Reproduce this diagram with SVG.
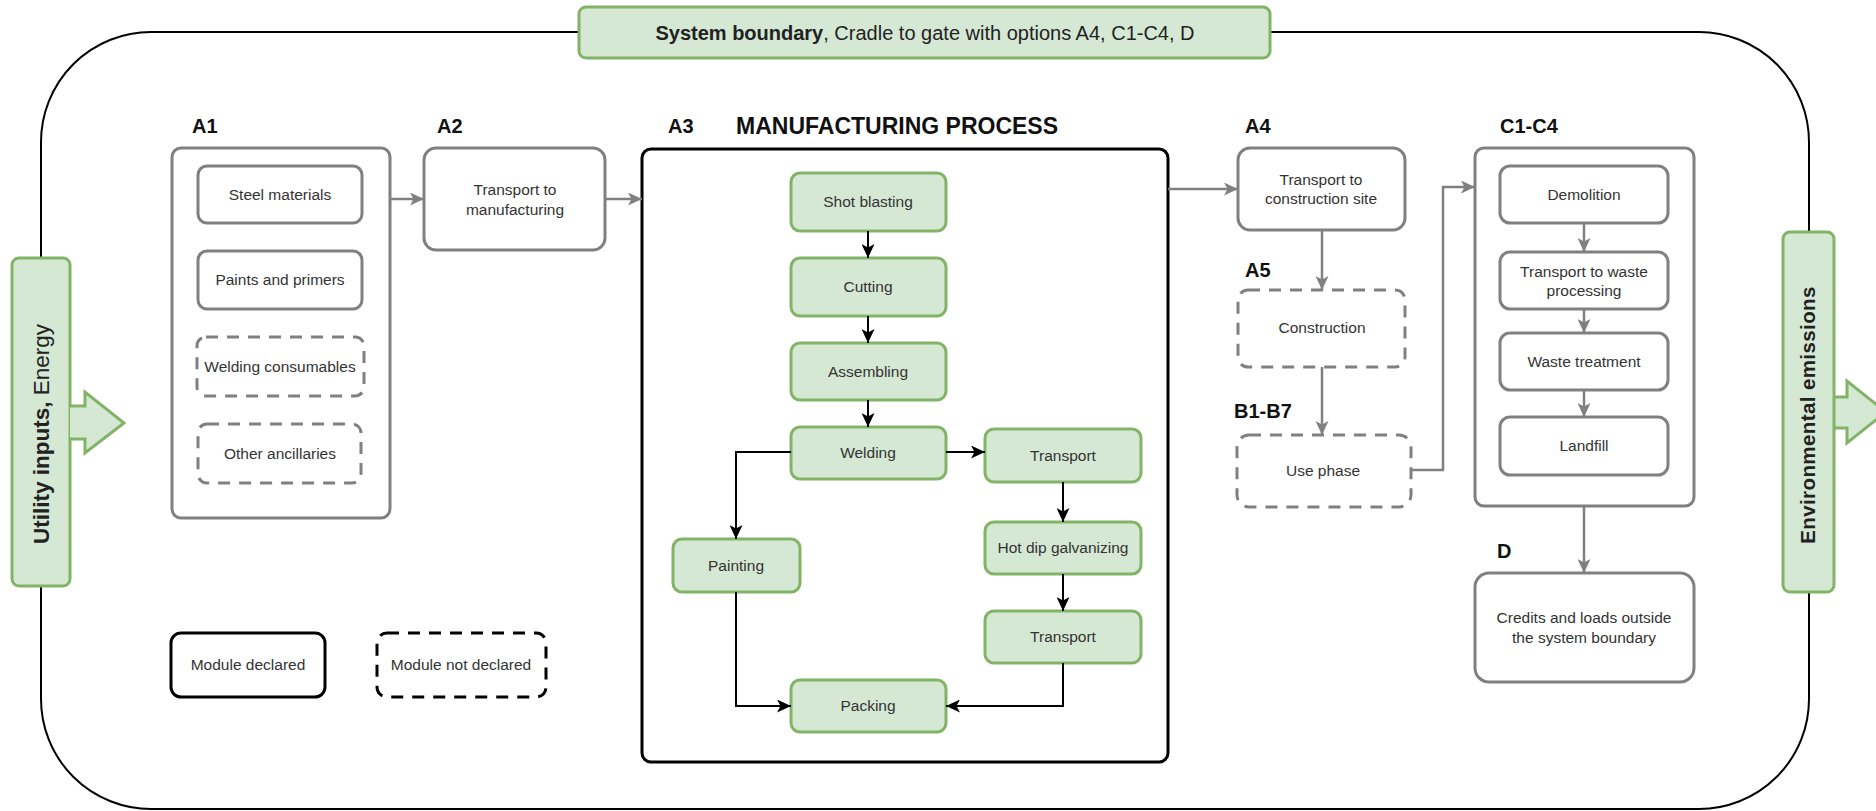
<svg xmlns="http://www.w3.org/2000/svg" width="1876" height="811" viewBox="0 0 1876 811">
<style>
text{font-family:"Liberation Sans",Arial,sans-serif;}
.lbl{font-size:20px;font-weight:bold;fill:#111;}
.t{font-size:15.5px;fill:#333;text-anchor:middle;}
.g{fill:#fff;stroke:#808080;stroke-width:3;}
.gd{fill:#fff;stroke:#808080;stroke-width:3;stroke-dasharray:12 9;}
.grn{fill:#d5e8d4;stroke:#82b366;stroke-width:3;}
.cg{fill:none;stroke:#808080;stroke-width:2.5;marker-end:url(#ag);}
.cb{fill:none;stroke:#000;stroke-width:2;marker-end:url(#ab);}
</style>
<defs>
<marker id="ab" markerUnits="userSpaceOnUse" markerWidth="15" markerHeight="13" refX="14" refY="6.5" orient="auto"><path d="M0,0 L14,6.5 L0,13 L3.5,6.5 z" fill="#000"/></marker>
<marker id="ag" markerUnits="userSpaceOnUse" markerWidth="15" markerHeight="13" refX="14" refY="6.5" orient="auto"><path d="M0,0 L14,6.5 L0,13 L3.5,6.5 z" fill="#808080"/></marker>
</defs>
<rect width="1876" height="811" fill="#fff"/>
<g id="boundary">
<rect x="41" y="32" width="1768" height="777" rx="110" ry="110" fill="none" stroke="#000" stroke-width="2"/>
</g>
<g id="title">
<rect x="579" y="7" width="691" height="51" rx="7" class="grn" stroke-width="1.5"/>
<text x="925" y="40" text-anchor="middle" style="font-size:20px;fill:#222"><tspan font-weight="bold">System boundary</tspan>, Cradle to gate with options A4, C1-C4, D</text>
</g>
<g id="utility">
<rect x="12" y="258" width="58" height="328" rx="7" class="grn" stroke-width="1.5"/>
<path d="M70,406 L85,406 L85,392 L124,423 L85,453 L85,439 L70,439" class="grn" stroke-width="1.5"/>
<text transform="translate(49,434) rotate(-90)" text-anchor="middle" style="font-size:22.5px;fill:#222"><tspan font-weight="bold">Utility inputs,</tspan> Energy</text>
</g>
<g id="emissions">
<path d="M1834,397 L1847,397 L1847,381 L1886,412 L1847,443 L1847,428 L1834,428" class="grn" stroke-width="1.5"/>
<rect x="1783" y="232" width="51" height="360" rx="7" class="grn" stroke-width="1.5"/>
<text transform="translate(1815,415) rotate(-90)" text-anchor="middle" style="font-size:20.5px;font-weight:bold;fill:#222;letter-spacing:0.4px">Environmental emissions</text>
</g>
<g id="A1">
<text x="192" y="133" class="lbl">A1</text>
<rect x="172" y="148" width="218" height="370" rx="9" class="g"/>
</g>
<g id="steel"><rect x="198" y="166" width="164" height="57" rx="9" class="g"/><text x="280" y="200" class="t">Steel materials</text></g>
<g id="paints"><rect x="198" y="251" width="164" height="58" rx="9" class="g"/><text x="280" y="285" class="t">Paints and primers</text></g>
<g id="welding-cons"><rect x="197" y="337" width="167" height="59" rx="9" class="gd"/><text x="280" y="372" class="t">Welding consumables</text></g>
<g id="ancillaries"><rect x="198" y="424" width="163" height="59" rx="9" class="gd"/><text x="280" y="459" class="t">Other ancillaries</text></g>
<g id="A2">
<text x="437" y="133" class="lbl">A2</text>
<rect x="424" y="148" width="181" height="102" rx="12" class="g"/>
<text x="515" y="195" class="t">Transport to</text>
<text x="515" y="215" class="t">manufacturing</text>
</g>
<g id="A3">
<text x="668" y="133" class="lbl">A3</text>
<text x="736" y="134" style="font-size:23px;font-weight:bold;fill:#111">MANUFACTURING PROCESS</text>
<rect x="642" y="149" width="526" height="613" rx="9" fill="#fff" stroke="#000" stroke-width="3"/>
</g>
<g id="shot"><rect x="791" y="173" width="155" height="58" rx="9" class="grn"/><text x="868" y="207" class="t">Shot blasting</text></g>
<g id="cutting"><rect x="791" y="258" width="155" height="58" rx="9" class="grn"/><text x="868" y="292" class="t">Cutting</text></g>
<g id="assembling"><rect x="791" y="343" width="155" height="57" rx="9" class="grn"/><text x="868" y="377" class="t">Assembling</text></g>
<g id="welding"><rect x="791" y="427" width="155" height="52" rx="9" class="grn"/><text x="868" y="458" class="t">Welding</text></g>
<g id="transport1"><rect x="985" y="429" width="156" height="53" rx="9" class="grn"/><text x="1063" y="461" class="t">Transport</text></g>
<g id="galvanizing"><rect x="985" y="522" width="156" height="52" rx="9" class="grn"/><text x="1063" y="553" class="t">Hot dip galvanizing</text></g>
<g id="transport2"><rect x="985" y="611" width="156" height="52" rx="9" class="grn"/><text x="1063" y="642" class="t">Transport</text></g>
<g id="painting"><rect x="673" y="539" width="127" height="53" rx="9" class="grn"/><text x="736" y="571" class="t">Painting</text></g>
<g id="packing"><rect x="791" y="680" width="155" height="52" rx="9" class="grn"/><text x="868" y="711" class="t">Packing</text></g>
<g id="A4">
<text x="1245" y="133" class="lbl">A4</text>
<rect x="1238" y="148" width="167" height="82" rx="12" class="g"/>
<text x="1321" y="185" class="t">Transport to</text>
<text x="1321" y="204" class="t">construction site</text>
</g>
<g id="A5">
<text x="1245" y="277" class="lbl">A5</text>
<rect x="1238" y="290" width="167" height="77" rx="10" class="gd"/>
<text x="1322" y="333" class="t">Construction</text>
</g>
<g id="B1B7">
<text x="1234" y="418" class="lbl">B1-B7</text>
<rect x="1237" y="435" width="174" height="72" rx="12" class="gd"/>
<text x="1323" y="476" class="t">Use phase</text>
</g>
<g id="C1C4">
<text x="1500" y="133" class="lbl">C1-C4</text>
<rect x="1475" y="148" width="219" height="358" rx="9" class="g"/>
</g>
<g id="demolition"><rect x="1500" y="166" width="168" height="57" rx="10" class="g"/><text x="1584" y="200" class="t">Demolition</text></g>
<g id="wastetransport"><rect x="1500" y="252" width="168" height="57" rx="10" class="g"/><text x="1584" y="277" class="t">Transport to waste</text><text x="1584" y="296" class="t">processing</text></g>
<g id="wastetreatment"><rect x="1500" y="333" width="168" height="57" rx="10" class="g"/><text x="1584" y="367" class="t">Waste treatment</text></g>
<g id="landfill"><rect x="1500" y="417" width="168" height="58" rx="10" class="g"/><text x="1584" y="451" class="t">Landfill</text></g>
<g id="D">
<text x="1497" y="558" class="lbl">D</text>
<rect x="1475" y="573" width="219" height="109" rx="14" class="g"/>
<text x="1584" y="623" class="t">Credits and loads outside</text>
<text x="1584" y="643" class="t">the system boundary</text>
</g>
<g id="legend-declared"><rect x="171" y="633" width="154" height="64" rx="10" fill="#fff" stroke="#000" stroke-width="3"/><text x="248" y="670" class="t">Module declared</text></g>
<g id="legend-notdeclared"><rect x="377" y="633" width="169" height="64" rx="10" fill="#fff" stroke="#000" stroke-width="3" stroke-dasharray="12 9"/><text x="461" y="670" class="t">Module not declared</text></g>
<g id="connectors">
<path d="M390,199 L424,199" class="cg"/>
<path d="M605,199 L642,199" class="cg"/>
<path d="M1168,189 L1238,189" class="cg"/>
<path d="M1322,230 L1322,290" class="cg"/>
<path d="M1322,367 L1322,435" class="cg"/>
<path d="M1411,470 L1443,470 L1443,187 L1475,187" class="cg"/>
<path d="M1584,223 L1584,252" class="cg"/>
<path d="M1584,309 L1584,333" class="cg"/>
<path d="M1584,390 L1584,417" class="cg"/>
<path d="M1584,506 L1584,573" class="cg"/>
<path d="M868,231 L868,258" class="cb"/>
<path d="M868,316 L868,343" class="cb"/>
<path d="M868,400 L868,427" class="cb"/>
<path d="M946,452 L985,452" class="cb"/>
<path d="M1063,482 L1063,522" class="cb"/>
<path d="M1063,574 L1063,611" class="cb"/>
<path d="M791,452 L736,452 L736,539" class="cb"/>
<path d="M736,592 L736,706 L791,706" class="cb"/>
<path d="M1063,663 L1063,706 L946,706" class="cb"/>
</g>
</svg>
